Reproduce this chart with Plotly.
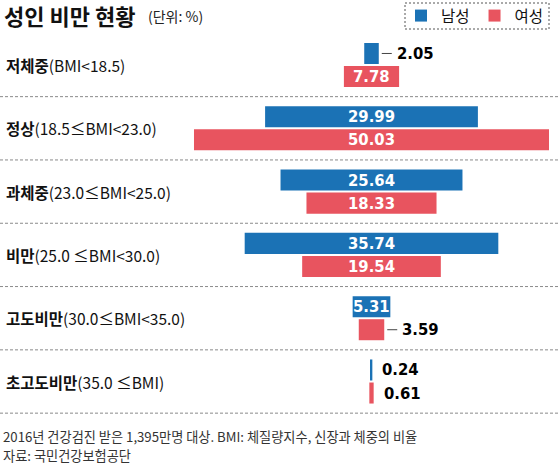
import plotly.graph_objects as go

# ---- data ----
cat_bold = ["저체중", "정상", "과체중", "비만", "고도비만", "초고도비만"]
cat_range = ["(BMI&lt;18.5)", "(18.5≤BMI&lt;23.0)", "(23.0≤BMI&lt;25.0)",
             "(25.0 ≤BMI&lt;30.0)", "(30.0≤BMI&lt;35.0)", "(35.0 ≤BMI)"]
male = [2.05, 29.99, 25.64, 35.74, 5.31, 0.24]
female = [7.78, 50.03, 18.33, 19.54, 3.59, 0.61]
series_names = ["남성", "여성"]
footer_lines = ["2016년 건강검진 받은 1,395만명 대상. BMI: 체질량지수, 신장과 체중의 비율",
                "자료: 국민건강보험공단"]

BLUE = "#1b72b5"
RED = "#e8545f"
W, H = 559, 464
KR = "Noto Sans CJK KR, Noto Sans, sans-serif"
NUM = "Liberation Sans Narrow, DejaVu Sans Condensed, Roboto, sans-serif"

off = 0.182
bw = 0.332
rows = list(range(len(cat_bold)))

fig = go.Figure()
for name, vals, color, sgn in [(series_names[0], male, BLUE, -1), (series_names[1], female, RED, 1)]:
    fig.add_trace(go.Bar(
        orientation="h",
        name=name,
        x=vals,
        base=[-v / 2 for v in vals],
        y=[i + sgn * off for i in rows],
        width=bw,
        marker=dict(color=color, line=dict(width=0)),
        hoverinfo="skip",
    ))

annotations = []
shapes = []

# value labels
for vals, sgn in [(male, -1), (female, 1)]:
    for i, v in enumerate(vals):
        yy = i + sgn * off
        txt = f"{v:.2f}"
        if v >= 5:
            annotations.append(dict(x=0, y=yy, xref="x", yref="y", text=f"<b>{txt}</b>",
                                    showarrow=False, xanchor="center", yanchor="middle",
                                    font=dict(family=NUM, size=16.5, color="white")))
        else:
            lead = v >= 1
            annotations.append(dict(x=v / 2, y=yy, xref="x", yref="y", text=f"<b>{txt}</b>",
                                    showarrow=False, xanchor="left", yanchor="middle",
                                    xshift=16 if lead else 8,
                                    font=dict(family=NUM, size=16.5, color="black")))
            if lead:
                shapes.append(dict(type="line", xref="x", yref="y", xsizemode="pixel",
                                   xanchor=v / 2, x0=3, x1=13, y0=yy, y1=yy,
                                   line=dict(color="#444", width=1)))

# category labels
for i in rows:
    annotations.append(dict(x=4 / W, y=i, xref="paper", yref="y",
                            text=f"<b>{cat_bold[i]}</b>{cat_range[i]}",
                            showarrow=False, xanchor="left", yanchor="middle",
                            font=dict(family=KR, size=15.5, color="#111")))

# separators
for i in rows:
    shapes.append(dict(type="line", xref="paper", yref="y", x0=0, x1=1, y0=i + 0.5, y1=i + 0.5,
                       line=dict(color="#8a8a8a", width=1, dash="3px,2px")))

# title
annotations.append(dict(x=3 / W, y=1 - 15 / H, xref="paper", yref="paper",
                        text="<b>성인 비만 현황</b>", showarrow=False,
                        xanchor="left", yanchor="middle", borderpad=0,
                        font=dict(family=KR, size=22, color="#111")))
annotations.append(dict(x=146 / W, y=1 - 16 / H, xref="paper", yref="paper",
                        text="(단위: %)", showarrow=False,
                        xanchor="left", yanchor="middle",
                        font=dict(family=KR, size=14, color="#222")))

# footer
for k, (line, py) in enumerate(zip(footer_lines, [436, 455])):
    annotations.append(dict(x=3 / W, y=1 - py / H, xref="paper", yref="paper",
                            text=line, showarrow=False, xanchor="left", yanchor="middle",
                            borderpad=0, borderwidth=0,
                            font=dict(family=KR, size=13.2, color="#333")))

# legend frame
shapes.append(dict(type="rect", xref="paper", yref="paper",
                   x0=405 / W, x1=549 / W, y0=1 - 29 / H, y1=1 - 3 / H,
                   line=dict(color="#555", width=1, dash="2px,2px")))

px_per_unit = 7.096
cx = 371.5
pitch = 63.3
c0 = 65

fig.update_layout(
    width=W, height=H,
    margin=dict(l=0, r=0, t=0, b=0, pad=0, autoexpand=False),
    paper_bgcolor="white", plot_bgcolor="white",
    barmode="overlay",
    showlegend=True,
    legend=dict(orientation="h", x=549 / W, xanchor="right", y=1 - 16 / H, yanchor="middle",
                font=dict(family=KR, size=15.5, color="#111"),
                bgcolor="rgba(0,0,0,0)", itemclick=False, itemdoubleclick=False,
                itemwidth=30, traceorder="normal"),
    xaxis=dict(visible=False, range=[-cx / px_per_unit, (W - cx) / px_per_unit], fixedrange=True),
    yaxis=dict(visible=False, range=[(H - c0) / pitch, -c0 / pitch], fixedrange=True),
    annotations=annotations,
    shapes=shapes,
)

fig.write_html("out.html", config={"displayModeBar": False},
               post_script="document.body.style.margin='0';document.body.style.overflow='hidden';")
